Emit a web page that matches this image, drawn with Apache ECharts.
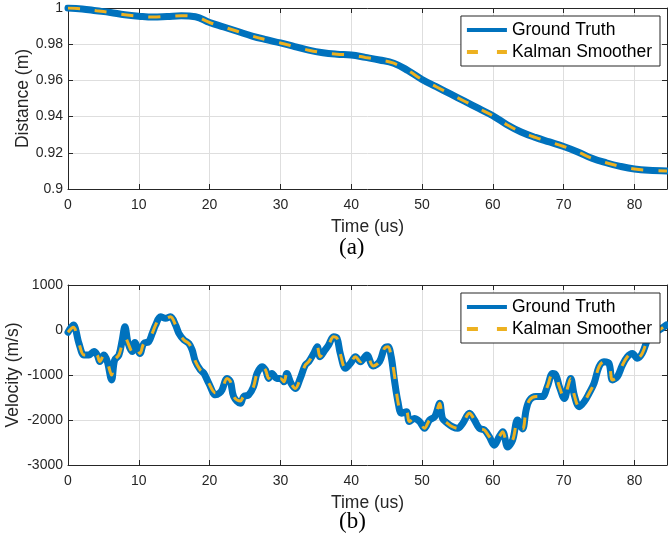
<!DOCTYPE html>
<html>
<head>
<meta charset="utf-8">
<script src="https://cdn.jsdelivr.net/npm/echarts@6/dist/echarts.min.js"></script>
<style>html,body{margin:0;padding:0;background:#fff;} #chart{width:668px;height:540px;}</style>
</head>
<body>
<div id="chart"></div>
<script>
// (a) distance
var distTime = [0,2,4,6,8,10,12,14,16,18,20,22,24,26,28,30,32,34,36,38,40,42,44,46,48,50,52,54,56,58,60,62,64,66,68,70,72,74,76,78,80,82,84.6];
var distTruth = [1.000,0.9995,0.9985,0.9975,0.9963,0.9955,0.995,0.9953,0.9957,0.9952,0.992,0.9895,0.987,0.9845,0.9825,0.9807,0.9787,0.9767,0.9753,0.9745,0.974,0.9727,0.9713,0.9695,0.9655,0.9605,0.9565,0.9525,0.9485,0.9445,0.9405,0.9355,0.9315,0.9285,0.926,0.9235,0.9205,0.917,0.9145,0.9125,0.911,0.9103,0.910];
var distKalman = [1.000,0.9995,0.9985,0.9975,0.9963,0.9955,0.995,0.9953,0.9957,0.9952,0.992,0.9895,0.987,0.9845,0.9825,0.9807,0.9787,0.9767,0.9753,0.9745,0.974,0.9727,0.9713,0.9695,0.9655,0.9605,0.9565,0.9525,0.9485,0.9445,0.9405,0.9355,0.9315,0.9285,0.926,0.9235,0.9205,0.917,0.9145,0.9125,0.911,0.9103,0.910];
// (b) velocity
var velTime = [0,0.75,1.55,2.26,2.96,3.67,4.13,4.5,5.08,5.55,
	6.16,6.58,7.19,7.66,8.04,8.5,9.07,9.45,10.16,10.7,
	11.4,11.9,12.37,13.07,13.78,14.48,15.19,15.66,16.36,17.07,
	17.54,18.0,18.7,19.18,19.89,20.83,21.4,21.76,22.47,22.95,
	23.4,24.35,24.8,25.5,26.2,26.7,27.4,27.9,28.35,28.8,
	29.5,30.0,30.5,30.9,31.5,32.1,32.8,33.5,34.0,34.7,
	35.2,35.6,36.3,36.8,37.5,38.0,38.45,39.2,39.9,40.6,
	41.3,42.2,43.1,44.0,44.7,45.2,45.65,46.1,46.6,47.1,
	47.8,48.2,48.9,49.65,50.35,51.06,51.8,52.5,52.9,53.6,
	54.3,55.05,55.75,56.7,57.4,58.1,58.8,59.5,60.2,60.9,
	61.4,62.1,62.8,63.5,64.2,64.7,65.2,66.1,67.0,67.7,
	68.45,68.9,69.4,70.1,70.6,71.0,71.5,72.2,72.9,73.6,
	74.3,75.0,75.7,76.4,76.9,77.6,78.3,79.0,79.7,80.4,
	81.1,81.85,82.55,83.5,84.5];
var velTruth = [-50,110,-300,-555,-555,-480,-555,-700,-555,-700,
	-1110,-670,-555,-220,70,-300,-480,-280,-520,-300,
	-260,-75,110,295,260,295,110,-75,-220,-300,
	-445,-700,-890,-960,-1185,-1440,-1400,-1330,-1075,-1150,
	-1480,-1630,-1480,-1445,-1260,-965,-815,-890,-1075,-965,
	-1075,-1075,-1150,-965,-1185,-1300,-1075,-780,-705,-520,
	-370,-595,-445,-335,-150,-185,-520,-850,-740,-595,
	-705,-555,-800,-705,-405,-370,-595,-1110,-1595,-1850,
	-1815,-2035,-1965,-2035,-2185,-2000,-1925,-1630,-1965,-2075,
	-2150,-2185,-2075,-1850,-2000,-2185,-2220,-2370,-2560,-2370,
	-2260,-2600,-2445,-2000,-2200,-1780,-1555,-1480,-1480,-1260,
	-965,-1000,-1260,-1520,-1260,-1075,-1445,-1705,-1595,-1405,
	-1185,-815,-705,-740,-1110,-1035,-780,-595,-520,-630,
	-520,-220,-75,0,110];
var velKalman = [-50,60,-300,-555,-555,-480,-555,-700,-555,-700,
	-1000,-670,-555,-300,-150,-300,-480,-350,-520,-300,
	-260,-75,110,295,260,295,110,-75,-220,-300,
	-445,-700,-890,-960,-1185,-1400,-1400,-1330,-1075,-1150,
	-1480,-1580,-1480,-1445,-1260,-965,-815,-890,-1075,-965,
	-1075,-1075,-1150,-965,-1185,-1300,-1075,-780,-705,-520,
	-370,-595,-445,-335,-150,-185,-520,-850,-740,-595,
	-705,-555,-800,-705,-405,-370,-595,-1000,-1595,-1850,
	-1815,-2035,-1965,-2035,-2185,-2000,-1925,-1630,-1965,-2075,
	-2150,-2185,-2075,-1850,-2000,-2185,-2220,-2370,-2500,-2370,
	-2260,-2550,-2445,-2050,-2200,-1780,-1555,-1480,-1480,-1260,
	-965,-1000,-1260,-1520,-1260,-1075,-1445,-1705,-1595,-1405,
	-1185,-815,-705,-740,-1110,-1035,-780,-595,-520,-630,
	-520,-220,-75,0,110];
var seriesNames = ['Ground Truth','Kalman Smoother'];

var blue = '#0072BD', yellow = '#EDB120', ink = '#262626', gridc = '#dedede';
var sans = 'Liberation Sans';
function pairs(xs, ys){ var out=[]; for(var i=0;i<xs.length;i++){ out.push([xs[i], ys[i]]); } return out; }

function xAx(gi, top){
	return { gridIndex:gi, type:'value', min:0, max:84.6, interval:10, position: top?'top':'bottom',
		axisLine:{show:true, onZero:false, lineStyle:{color:ink, width:1}},
		axisTick:{show:true, inside:true, length:5, lineStyle:{color:ink}},
		axisLabel:{show:!top, showMaxLabel:false, fontFamily:sans, fontSize:14, color:ink, margin:9},
		splitLine:{show:!top, lineStyle:{color:gridc, width:1}},
		name: top?'':'Time (us)', nameLocation:'middle', nameGap:29, nameMoveOverlap:false,
		nameTextStyle:{fontFamily:sans, fontSize:17.5, color:ink} };
}
function yAx(gi, right, min, max, step, name, gap){
	return { gridIndex:gi, type:'value', min:min, max:max, interval:step, position: right?'right':'left',
		axisLine:{show:true, onZero:false, lineStyle:{color:ink, width:1}},
		axisTick:{show:true, inside:true, length:5, lineStyle:{color:ink}},
		axisLabel:{show:!right, fontFamily:sans, fontSize:14, color:ink, margin:5,
			formatter:function(v){ return String(+v.toFixed(4)); }},
		splitLine:{show:!right, lineStyle:{color:gridc, width:1}},
		name: right?'':name, nameLocation:'middle', nameGap:gap, nameMoveOverlap:false,
		nameTextStyle:{fontFamily:sans, fontSize:17.5, color:ink} };
}
function legendAt(top){
	return { top:top, right:8, orient:'vertical', backgroundColor:'#fff', borderColor:ink, borderWidth:1,
		padding:[5,8,5,6], itemGap:4, itemWidth:40, itemHeight:4,
		textStyle:{fontFamily:sans, fontSize:17.5, color:'#000', lineHeight:18},
		data:[{name:seriesNames[0], icon:'rect'},
			{name:seriesNames[1], icon:'path://M0,0h11v4h-11zM30,0h10v4h-10z'}] };
}
function truthSeries(xi, yi, data, smooth){
	return { name:seriesNames[0], type:'line', xAxisIndex:xi, yAxisIndex:yi, data:data, smooth:smooth,
		showSymbol:false, symbol:'none', itemStyle:{color:blue},
		lineStyle:{color:blue, width:7, cap:'round', join:'round'} };
}
function kalmanSeries(xi, yi, data, smooth){
	return { name:seriesNames[1], type:'line', xAxisIndex:xi, yAxisIndex:yi, data:data, smooth:smooth,
		showSymbol:false, symbol:'none', itemStyle:{color:yellow},
		lineStyle:{color:yellow, width:3, type:[12,15]} };
}

var chart = echarts.init(document.getElementById('chart'), null, {renderer:'canvas'});
var option = {
	animation:false,
	backgroundColor:'#fff',
	grid:[{left:68, top:8, right:1, height:181, outerBoundsMode:'none', containLabel:false},
		{left:68, top:285, right:1, height:180, outerBoundsMode:'none', containLabel:false}],
	xAxis:[xAx(0,false), xAx(0,true), xAx(1,false), xAx(1,true)],
	yAxis:[yAx(0,false,0.9,1,0.02,'Distance (m)',36), yAx(0,true,0.9,1,0.02,'',0),
		yAx(1,false,-3000,1000,1000,'Velocity (m/s)',46), yAx(1,true,-3000,1000,1000,'',0)],
	legend:[legendAt(16), legendAt(293)],
	graphic:[
		{type:'text', left:339, top:236, style:{text:'(a)', font:'23px "Liberation Serif"', fill:'#000'}},
		{type:'text', left:339, top:510, style:{text:'(b)', font:'23px "Liberation Serif"', fill:'#000'}}
	],
	series:[
		truthSeries(0,0,pairs(distTime,distTruth),0.4),
		kalmanSeries(0,0,pairs(distTime,distKalman),0.4),
		truthSeries(2,2,pairs(velTime,velTruth),0.35),
		kalmanSeries(2,2,pairs(velTime,velKalman),0.35)
	]
};
chart.setOption(option);
</script>
</body>
</html>
